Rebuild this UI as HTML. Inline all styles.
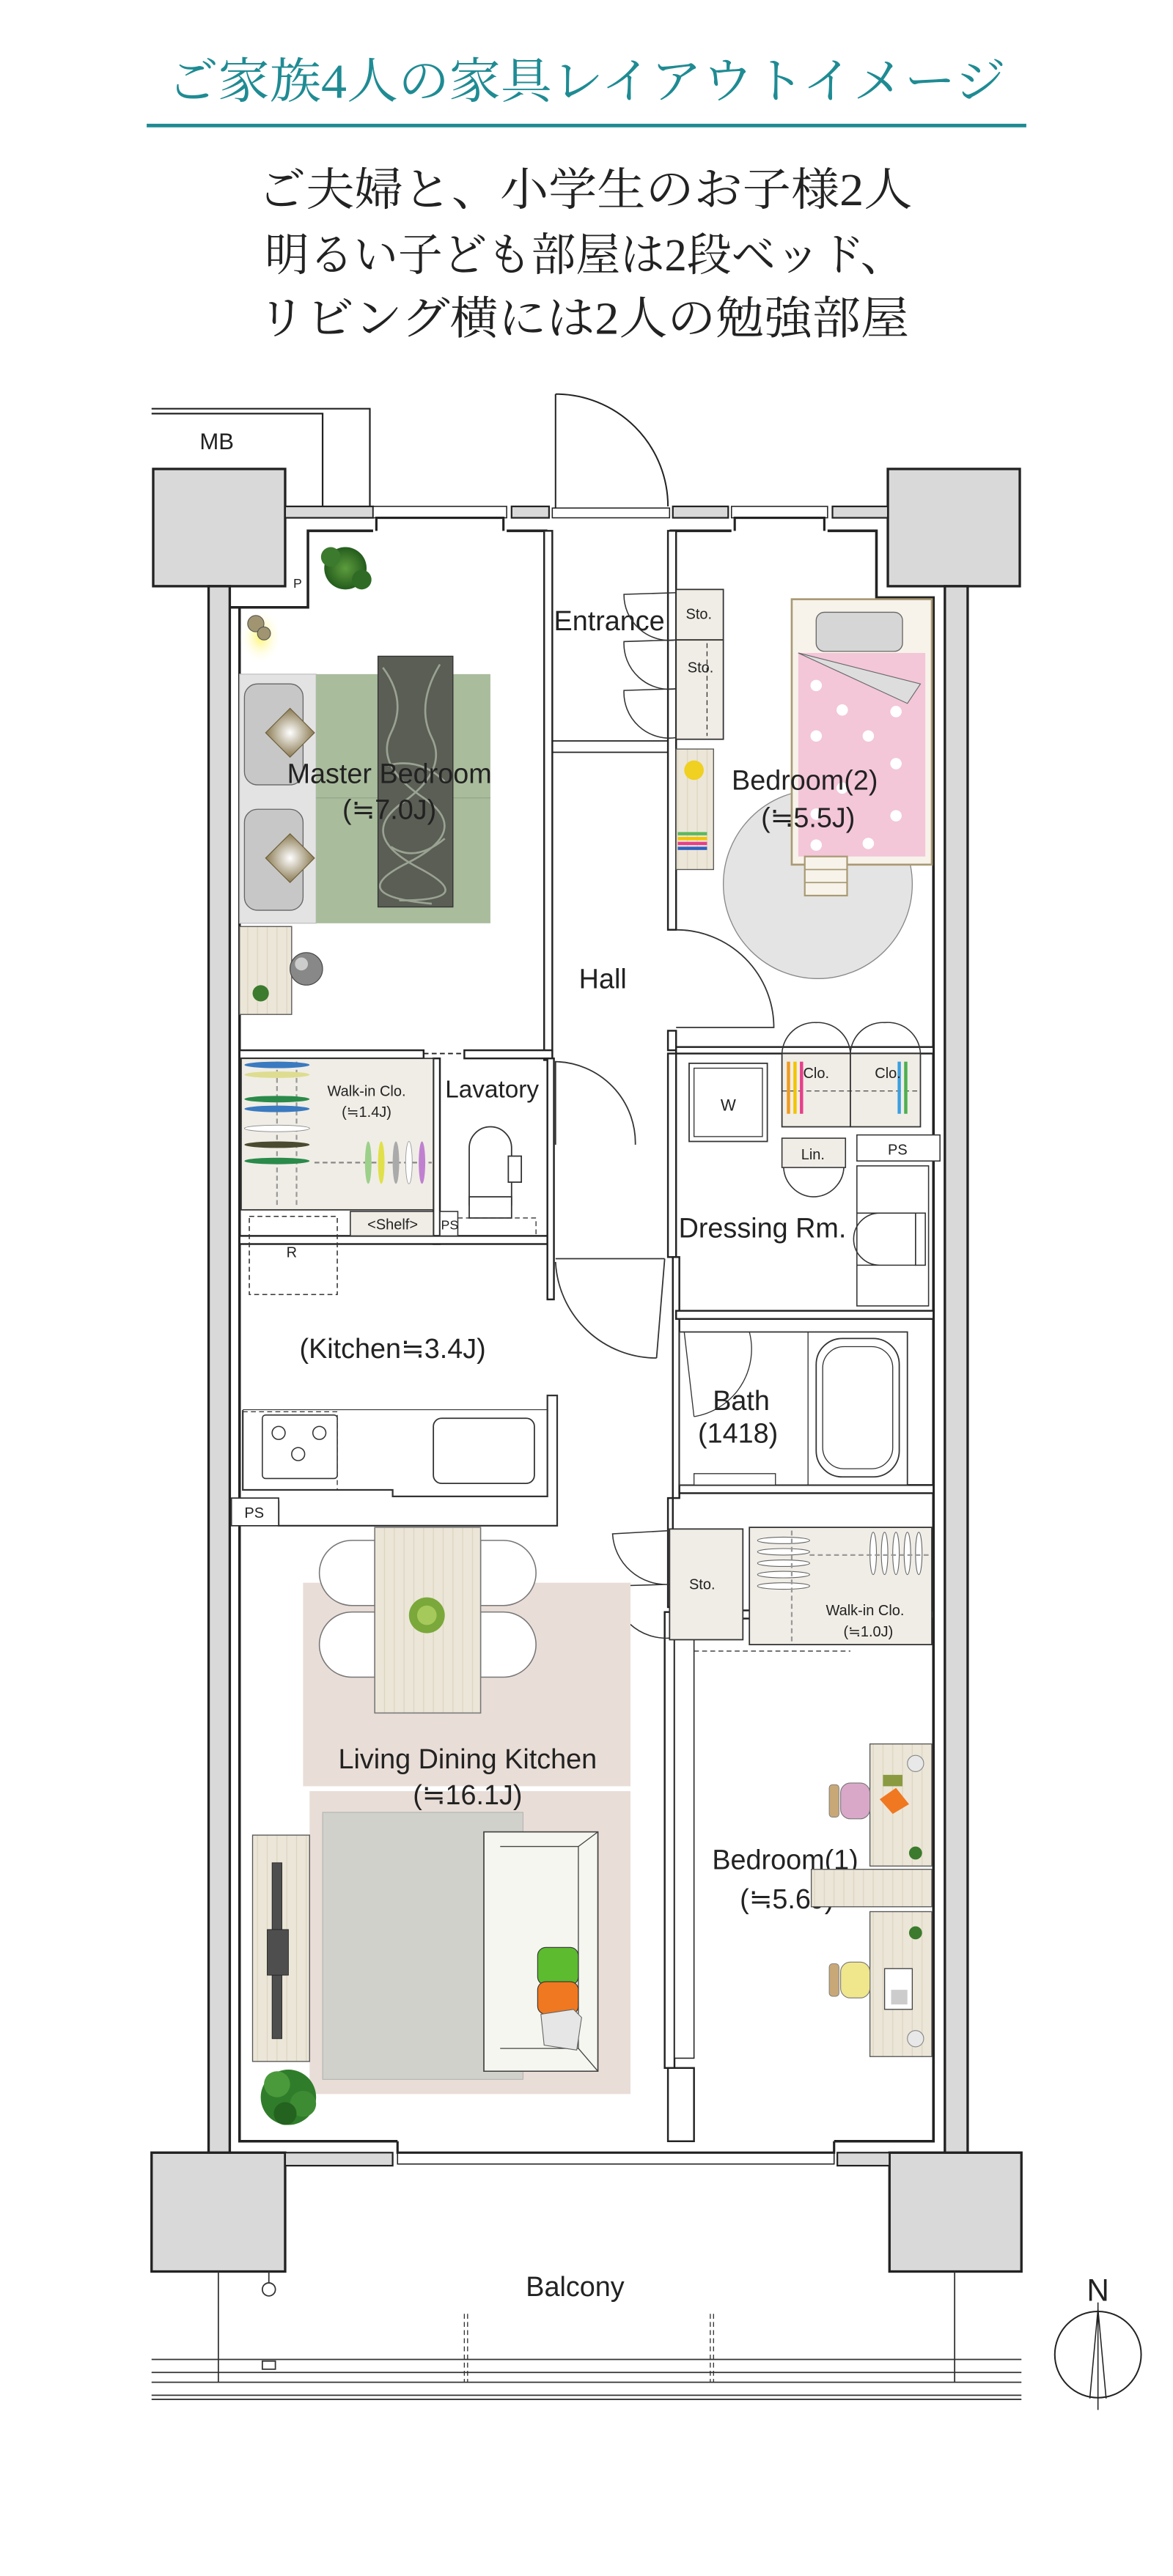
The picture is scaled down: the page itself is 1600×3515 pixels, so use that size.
<!DOCTYPE html>
<html><head><meta charset="utf-8"><style>
html,body{margin:0;padding:0;background:#fff;}
svg{display:block;}
.lb{font-family:"Liberation Sans Narrow","Liberation Sans",sans-serif;fill:#222;}
</style></head><body>
<svg width="1600" height="3515" viewBox="0 0 720 1582" xmlns="http://www.w3.org/2000/svg">
<rect width="720" height="1582" fill="#fff"/>
<!-- Titles -->
<text x="360" y="60" text-anchor="middle" font-family="'Liberation Serif','Noto Serif CJK JP',serif" font-size="30" fill="#1f8b93" textLength="515" lengthAdjust="spacingAndGlyphs">ご家族4人の家具レイアウトイメージ</text>
<rect x="90" y="76" width="540" height="2.2" fill="#1f8b93"/>
<g font-family="'Liberation Serif','Noto Serif CJK JP',serif" font-size="28" fill="#222" text-anchor="middle">
<text x="359" y="126" textLength="402" lengthAdjust="spacingAndGlyphs">ご夫婦と、小学生のお子様2人</text>
<text x="359" y="166" textLength="393" lengthAdjust="spacingAndGlyphs">明るい子ども部屋は2段ベッド、</text>
<text x="358" y="205" textLength="400" lengthAdjust="spacingAndGlyphs">リビング横には2人の勉強部屋</text>
</g>

<g stroke="#222" stroke-width="1" fill="none">
<!-- MB -->
<path d="M93 251 H227 V311 M93 254 H198 V311"/>
</g>
<text x="133" y="276" class="lb" font-size="14" text-anchor="middle">MB</text>

<!-- pillars -->
<g fill="#d9d9d9" stroke="#222" stroke-width="1.5">
<rect x="94" y="288" width="81" height="72"/>
<rect x="545" y="288" width="81" height="72"/>
<rect x="93" y="1322" width="82" height="73"/>
<rect x="546" y="1322" width="81" height="73"/>
<!-- side walls -->
<rect x="128" y="360" width="13" height="962"/>
<rect x="580" y="360" width="14" height="962"/>
<!-- top wall pieces -->
<rect x="175" y="311" width="54" height="7" stroke-width="1"/>
<rect x="314" y="311" width="23" height="7" stroke-width="1"/>
<rect x="413" y="311" width="34" height="7" stroke-width="1"/>
<rect x="511" y="311" width="34" height="7" stroke-width="1"/>
<!-- bottom wall pieces -->
<rect x="175" y="1322" width="66" height="8" stroke-width="1"/>
<rect x="514" y="1322" width="32" height="8" stroke-width="1"/>
</g>
<!-- windows top -->
<g stroke="#222" stroke-width="0.7" fill="#fff">
<rect x="229" y="311" width="82" height="7"/>
<rect x="449" y="311" width="59" height="7"/>
<rect x="339" y="312" width="72" height="6"/>
<rect x="244" y="1322" width="268" height="7"/>
</g>
<g stroke="#222" stroke-width="1.4" fill="none">
<path d="M231 326 V318 H309 V326"/><path d="M451 326 V318 H506 V326"/>
<path d="M244 1315 V1322 H512 V1315"/>
</g>

<!-- room outline lines -->
<g stroke="#222" stroke-width="1.6" fill="none">
<path d="M141 373 H189 V326 H229"/>
<path d="M311 326 H336"/>
<path d="M411 326 H449"/>
<path d="M508 326 H538 V367 H573 V1315 H512"/>
<path d="M147 373 V1315 H244"/>
</g>
<text x="180" y="361" class="lb" font-size="8">P</text>

<!-- Entrance door -->
<g stroke="#222" stroke-width="0.9" fill="none">
<path d="M341 312 V242"/>
<path d="M341 242 A69 69 0 0 1 410 311"/>
</g>

<!-- interior walls -->
<g fill="#fff" stroke="#222" stroke-width="1.1">
<rect x="334" y="326" width="5" height="325"/>
<rect x="410" y="326" width="5" height="245"/>
<rect x="410" y="633" width="5" height="12"/>
<rect x="147" y="645" width="113" height="5"/>
<rect x="285" y="645" width="54" height="5"/>
<rect x="415" y="643" width="158" height="4"/>
<rect x="266" y="650" width="4" height="114"/>
<rect x="147" y="759" width="189" height="5"/>
<rect x="336" y="650" width="4" height="148"/>
<rect x="410" y="647" width="5" height="125"/>
<rect x="413" y="772" width="4" height="148"/>
<rect x="415" y="805" width="158" height="5"/>
<rect x="417" y="912" width="156" height="5"/>
<rect x="410" y="920" width="3" height="67"/>
<rect x="408" y="990" width="6" height="280"/>
<rect x="414" y="994" width="12" height="270" stroke-width="0.7"/>
<rect x="410" y="1270" width="16" height="45"/>
<rect x="426" y="989" width="147" height="5"/>
</g>
<g stroke="#222" stroke-width="0.8" fill="none">
<path d="M339 455 H410 M339 462 H410"/>
<path d="M260 647 H285" stroke-dasharray="3 2"/>
</g>

<!-- Master Bedroom furniture -->
<defs>
<radialGradient id="lamp"><stop offset="0" stop-color="#fff46a"/><stop offset="1" stop-color="#fff" stop-opacity="0"/></radialGradient>
<radialGradient id="pl"><stop offset="0" stop-color="#5d9c3d"/><stop offset="1" stop-color="#245c1d"/></radialGradient>
<radialGradient id="cush" cx=".5" cy=".5"><stop offset="0" stop-color="#fff"/><stop offset="1" stop-color="#8a7a52"/></radialGradient>
<pattern id="wood" width="6" height="6" patternUnits="userSpaceOnUse"><rect width="6" height="6" fill="#ece6d8"/><path d="M2 0V6" stroke="#ddd5c2" stroke-width=".6"/></pattern>
</defs>
<rect x="147" y="374" width="26" height="34" fill="url(#lamp)"/>
<circle cx="157" cy="383" r="5" fill="#a09570" stroke="#555" stroke-width=".5"/>
<circle cx="162" cy="389" r="4" fill="#a09570" stroke="#555" stroke-width=".5"/>
<g>
<circle cx="212" cy="349" r="13" fill="url(#pl)"/>
<circle cx="203" cy="342" r="6" fill="#3c7a2d"/><circle cx="222" cy="356" r="6" fill="#2f6b25"/>
</g>
<rect x="147" y="414" width="47" height="153" fill="#e3e3e3" stroke="#bbb" stroke-width=".5"/>
<rect x="194" y="414" width="107" height="153" fill="#a9bc9c"/>
<line x1="194" y1="490" x2="301" y2="490" stroke="#95a88a" stroke-width=".6"/>
<rect x="150" y="420" width="36" height="62" rx="8" fill="#c7c7c7" stroke="#666" stroke-width=".6"/>
<rect x="150" y="497" width="36" height="62" rx="8" fill="#c7c7c7" stroke="#666" stroke-width=".6"/>
<path d="M178 435 l15 15 -15 15 -15 -15z" fill="url(#cush)" stroke="#6b5c38" stroke-width=".5"/>
<path d="M178 512 l15 15 -15 15 -15 -15z" fill="url(#cush)" stroke="#6b5c38" stroke-width=".5"/>
<rect x="232" y="403" width="46" height="154" fill="#5a5e55" stroke="#333" stroke-width=".6"/>
<g stroke="#9aa292" stroke-width="1.2" fill="none">
<path d="M235 410 q15 20 5 40 t20 40 t-10 40 t15 25"/><path d="M270 408 q-15 25 -5 45 t-18 40 t10 40 t-12 20"/><path d="M238 470 q20 -5 35 10"/><path d="M240 520 q15 10 33 -5"/>
</g>
<rect x="147" y="569" width="32" height="54" fill="url(#wood)" stroke="#555" stroke-width=".6"/>
<circle cx="188" cy="595" r="10" fill="#888" stroke="#444" stroke-width=".5"/>
<circle cx="185" cy="592" r="4" fill="#ccc"/>
<circle cx="160" cy="610" r="5" fill="#3c7a2d"/>
<text x="239" y="481" class="lb" font-size="17" text-anchor="middle">Master Bedroom</text>
<text x="239" y="503" class="lb" font-size="17" text-anchor="middle">(≒7.0J)</text>

<!-- Entrance -->
<text x="374" y="387" class="lb" font-size="17" text-anchor="middle">Entrance</text>
<g fill="#f0ede6" stroke="#333" stroke-width=".8">
<rect x="415" y="362" width="29" height="31"/>
<rect x="415" y="393" width="29" height="61"/>
</g>
<line x1="434" y1="395" x2="434" y2="452" stroke="#333" stroke-width=".6" stroke-dasharray="3 2"/>
<text x="429" y="380" class="lb" font-size="9" text-anchor="middle">Sto.</text>
<text x="430" y="413" class="lb" font-size="9" text-anchor="middle">Sto.</text>
<g stroke="#333" stroke-width=".7" fill="none">
<path d="M415 364 L383 365 A28 28 0 0 0 415 393"/>
<path d="M415 393 L383 394 A28 28 0 0 0 415 423"/>
<path d="M415 423 L383 424 A28 28 0 0 0 415 453"/>
</g>

<!-- Bedroom 2 -->
<circle cx="502" cy="543" r="58" fill="#e4e4e4" stroke="#888" stroke-width=".6"/>
<rect x="415" y="460" width="23" height="74" fill="url(#wood)" stroke="#555" stroke-width=".6"/>
<circle cx="426" cy="473" r="6" fill="#f0d020"/>
<rect x="416" y="511" width="18" height="2" fill="#5cb85c"/><rect x="416" y="514" width="18" height="2" fill="#f2c400"/><rect x="416" y="517" width="18" height="2" fill="#e5408a"/><rect x="416" y="520" width="18" height="2" fill="#3060c0"/>
<rect x="486" y="368" width="86" height="163" fill="#f7f3ea" stroke="#a99a74" stroke-width="1.2"/>
<rect x="490" y="401" width="78" height="125" fill="#f3c6d8"/>
<g fill="#fff"><circle cx="501" cy="421" r="3.5"/><circle cx="517" cy="436" r="3.5"/><circle cx="550" cy="437" r="3.5"/><circle cx="501" cy="452" r="3.5"/><circle cx="533" cy="452" r="3.5"/><circle cx="550" cy="469" r="3.5"/><circle cx="517" cy="484" r="3.5"/><circle cx="501" cy="500" r="3.5"/><circle cx="550" cy="501" r="3.5"/><circle cx="533" cy="518" r="3.5"/><circle cx="501" cy="519" r="3.5"/></g>
<path d="M490 401 L565 420 L557 432 Z" fill="#ddd" stroke="#666" stroke-width=".5"/>
<rect x="501" y="376" width="53" height="24" rx="5" fill="#d6d6d6" stroke="#666" stroke-width=".6"/>
<g stroke="#a99a74" stroke-width="1" fill="#f7f3ea"><rect x="494" y="526" width="26" height="24"/></g>
<g stroke="#a99a74" stroke-width=".8"><line x1="494" y1="534" x2="520" y2="534"/><line x1="494" y1="542" x2="520" y2="542"/></g>
<text x="494" y="485" class="lb" font-size="17" text-anchor="middle">Bedroom(2)</text>
<text x="496" y="508" class="lb" font-size="17" text-anchor="middle">(≒5.5J)</text>
<path d="M415 571 L475 571" stroke="none"/>
<g stroke="#333" stroke-width=".8" fill="none">
<path d="M415 571 A60 60 0 0 1 475 631 L415 631"/>
</g>
<g fill="#f0ede6" stroke="#333" stroke-width=".8">
<rect x="480" y="647" width="42" height="45"/><rect x="522" y="647" width="43" height="45"/>
</g>
<line x1="480" y1="670" x2="565" y2="670" stroke="#333" stroke-width=".5" stroke-dasharray="3 2"/>
<g stroke="#333" stroke-width=".7" fill="none">
<path d="M480 647 A20 20 0 0 1 501 628 A20 20 0 0 1 522 647 A20 20 0 0 1 543 628 A20 20 0 0 1 565 647"/>
</g>
<g><rect x="483" y="652" width="2" height="32" fill="#f09a20"/><rect x="487" y="652" width="2" height="32" fill="#f2c400"/><rect x="491" y="652" width="2" height="32" fill="#e5408a"/><rect x="551" y="652" width="2" height="32" fill="#3aa0e0"/><rect x="555" y="652" width="2" height="32" fill="#4caf50"/></g>
<text x="501" y="662" class="lb" font-size="9" text-anchor="middle">Clo.</text>
<text x="545" y="662" class="lb" font-size="9" text-anchor="middle">Clo.</text>

<!-- Hall -->
<text x="370" y="607" class="lb" font-size="17" text-anchor="middle">Hall</text>

<!-- Walk-in clo -->
<rect x="148" y="650" width="118" height="93" fill="#f0ede6" stroke="#333" stroke-width=".8"/>
<line x1="170" y1="652" x2="170" y2="742" stroke="#999" stroke-dasharray="3 2"/>
<line x1="182" y1="652" x2="182" y2="742" stroke="#999" stroke-dasharray="3 2"/>
<g>
<ellipse cx="170" cy="654" rx="20" ry="2" fill="#3a7ac0"/><ellipse cx="170" cy="660" rx="20" ry="2" fill="#dedc90"/>
<ellipse cx="170" cy="675" rx="20" ry="2" fill="#2a8a4a"/><ellipse cx="170" cy="681" rx="20" ry="2" fill="#3a7ac0"/>
<ellipse cx="170" cy="693" rx="20" ry="2" fill="#fff" stroke="#888" stroke-width=".4"/><ellipse cx="170" cy="703" rx="20" ry="2" fill="#4a4a30"/>
<ellipse cx="170" cy="713" rx="20" ry="2" fill="#2a8a4a"/>
</g>
<line x1="193" y1="714" x2="265" y2="714" stroke="#888" stroke-dasharray="3 2"/>
<g><ellipse cx="226" cy="714" rx="2" ry="13" fill="#9cd08a"/><ellipse cx="234" cy="714" rx="2" ry="13" fill="#e0e04a"/><ellipse cx="243" cy="714" rx="2" ry="13" fill="#aaa"/><ellipse cx="251" cy="714" rx="2" ry="13" fill="#fff" stroke="#999" stroke-width=".4"/><ellipse cx="259" cy="714" rx="2" ry="13" fill="#c080d0"/></g>
<text x="225" y="673" class="lb" font-size="9" text-anchor="middle">Walk-in Clo.</text>
<text x="225" y="686" class="lb" font-size="9" text-anchor="middle">(≒1.4J)</text>
<rect x="215" y="744" width="51" height="15" fill="#f0ede6" stroke="#333" stroke-width=".7"/>
<text x="241" y="755" class="lb" font-size="9" text-anchor="middle">&lt;Shelf&gt;</text>
<rect x="270" y="744" width="11" height="15" fill="#fff" stroke="#333" stroke-width=".7"/>
<text x="276" y="755" class="lb" font-size="8" text-anchor="middle">PS</text>

<!-- Lavatory -->
<text x="302" y="674" class="lb" font-size="15" text-anchor="middle">Lavatory</text>
<g stroke="#333" stroke-width=".8" fill="#fff">
<path d="M288 740 V705 a13 13 0 0 1 26 0 V740 Z"/>
<rect x="312" y="710" width="8" height="16"/>
<rect x="288" y="735" width="26" height="13"/>
</g>
<path d="M281 748 H329 V759" stroke="#333" stroke-width=".6" fill="none" stroke-dasharray="3 2"/>
<g stroke="#333" stroke-width=".8" fill="none"><path d="M341 703 V652 A50 50 0 0 1 390 703"/></g>

<!-- W / Dressing -->
<rect x="423" y="653" width="48" height="48" fill="#fff" stroke="#333" stroke-width=".8"/>
<rect x="426" y="656" width="42" height="42" fill="#fff" stroke="#333" stroke-width=".6"/>
<text x="447" y="682" class="lb" font-size="10" text-anchor="middle">W</text>
<rect x="480" y="699" width="39" height="18" fill="#f0ede6" stroke="#333" stroke-width=".7"/>
<text x="499" y="712" class="lb" font-size="9" text-anchor="middle">Lin.</text>
<rect x="526" y="697" width="51" height="16" fill="#fff" stroke="#333" stroke-width=".7"/>
<text x="551" y="709" class="lb" font-size="9" text-anchor="middle">PS</text>
<g stroke="#333" stroke-width=".7" fill="none">
<path d="M481 717 A19 19 0 0 0 499 735 A19 19 0 0 0 518 717"/>
<rect x="526" y="716" width="44" height="86"/>
<path d="M526 745 H562 V777 H526 M540 745 A16 16 0 0 0 540 777"/>
<rect x="562" y="745" width="6" height="32"/>
</g>
<text x="468" y="760" class="lb" font-size="17" text-anchor="middle">Dressing Rm.</text>

<!-- Kitchen -->
<rect x="153" y="747" width="54" height="48" fill="none" stroke="#333" stroke-width=".7" stroke-dasharray="3 2"/>
<text x="179" y="772" class="lb" font-size="9" text-anchor="middle">R</text>
<g stroke="#333" stroke-width=".8" fill="none">
<path d="M408 773 L403 834 M341 775 A62 62 0 0 0 403 834 M341 773 H408"/>
</g>
<text x="241" y="834" class="lb" font-size="17" text-anchor="middle">(Kitchen≒3.4J)</text>
<path d="M149 866 H336 V857 H342 V937 H171 V922 H149" fill="#fff" stroke="#333" stroke-width="1"/>
<path d="M149 866 V915 H241 V919 H336 V866" fill="#fff" stroke="#333" stroke-width="1"/>
<rect x="149" y="867" width="58" height="48" fill="none" stroke="#333" stroke-width=".6" stroke-dasharray="3 2"/>
<rect x="161" y="869" width="46" height="39" rx="2" fill="#fff" stroke="#333" stroke-width=".7"/>
<circle cx="171" cy="880" r="4" fill="none" stroke="#333" stroke-width=".7"/><circle cx="196" cy="880" r="4" fill="none" stroke="#333" stroke-width=".7"/><circle cx="183" cy="893" r="4" fill="none" stroke="#333" stroke-width=".7"/>
<rect x="266" y="871" width="62" height="40" rx="5" fill="#fff" stroke="#333" stroke-width=".8"/>
<rect x="142" y="920" width="29" height="17" fill="#fff" stroke="#333" stroke-width=".8"/>
<text x="156" y="932" class="lb" font-size="9" text-anchor="middle">PS</text>

<!-- Bath -->
<rect x="417" y="818" width="140" height="94" fill="#fff" stroke="#333" stroke-width=".8"/>
<line x1="496" y1="818" x2="496" y2="912" stroke="#333" stroke-width=".6"/>
<rect x="501" y="822" width="51" height="85" rx="16" fill="#fff" stroke="#333" stroke-width=".8"/>
<rect x="505" y="827" width="43" height="75" rx="13" fill="none" stroke="#333" stroke-width=".6"/>
<rect x="426" y="905" width="50" height="7" fill="#fff" stroke="#333" stroke-width=".6"/>
<path d="M420 818 L426 870 M460 818 A42 42 0 0 1 426 870" stroke="#333" stroke-width=".6" fill="none"/>
<text x="455" y="866" class="lb" font-size="17" text-anchor="middle">Bath</text>
<text x="453" y="886" class="lb" font-size="17" text-anchor="middle">(1418)</text>

<!-- Sto / Walk-in clo lower -->
<rect x="411" y="939" width="45" height="68" fill="#f0ede6" stroke="#333" stroke-width=".8"/>
<text x="431" y="976" class="lb" font-size="9" text-anchor="middle">Sto.</text>
<path d="M411 940 L376 942 A33 33 0 0 0 411 973 L376 974 A33 33 0 0 0 411 1006" stroke="#333" stroke-width=".7" fill="none"/>
<rect x="460" y="938" width="112" height="72" fill="#f0ede6" stroke="#333" stroke-width=".8"/>
<g fill="#fff" stroke="#666" stroke-width=".5">
<ellipse cx="481" cy="946" rx="16" ry="2"/><ellipse cx="481" cy="953" rx="16" ry="2"/><ellipse cx="481" cy="960" rx="16" ry="2"/><ellipse cx="481" cy="967" rx="16" ry="2"/><ellipse cx="481" cy="974" rx="16" ry="2"/>
<ellipse cx="536" cy="954" rx="2" ry="13"/><ellipse cx="543" cy="954" rx="2" ry="13"/><ellipse cx="550" cy="954" rx="2" ry="13"/><ellipse cx="557" cy="954" rx="2" ry="13"/><ellipse cx="564" cy="954" rx="2" ry="13"/>
</g>
<line x1="486" y1="940" x2="486" y2="1008" stroke="#999" stroke-dasharray="3 2"/>
<line x1="497" y1="955" x2="572" y2="955" stroke="#999" stroke-dasharray="3 2"/>
<text x="531" y="992" class="lb" font-size="9" text-anchor="middle">Walk-in Clo.</text>
<text x="533" y="1005" class="lb" font-size="9" text-anchor="middle">(≒1.0J)</text>
<path d="M426 1014 H522" stroke="#333" stroke-width=".6" stroke-dasharray="3 2"/>

<!-- LDK -->
<rect x="186" y="972" width="201" height="125" fill="#e9ddd7"/>
<rect x="190" y="1100" width="197" height="186" fill="#e9ddd7"/>
<g fill="#fff" stroke="#777" stroke-width=".7">
<path d="M230 946 h-14 a13 13 0 0 0 0 40 h14 z"/><path d="M230 990 h-14 a13 13 0 0 0 0 40 h14 z"/>
<path d="M295 946 h14 a13 13 0 0 1 0 40 h-14 z"/><path d="M295 990 h14 a13 13 0 0 1 0 40 h-14 z"/>
</g>
<rect x="230" y="938" width="65" height="114" fill="url(#wood)" stroke="#777" stroke-width=".7"/>
<circle cx="262" cy="992" r="11" fill="#7aa83a"/><circle cx="262" cy="992" r="6" fill="#a5c95a"/>
<text x="287" y="1086" class="lb" font-size="17" text-anchor="middle">Living Dining Kitchen</text>
<text x="287" y="1108" class="lb" font-size="17" text-anchor="middle">(≒16.1J)</text>
<rect x="198" y="1113" width="123" height="164" fill="#cfd1ca" stroke="#aaa" stroke-width=".4"/>
<rect x="297" y="1125" width="70" height="147" fill="#f6f6f0" stroke="#333" stroke-width=".7"/>
<path d="M297 1125 H367 V1272 H297 M307 1134 H355 V1258 H307" fill="none" stroke="#444" stroke-width=".6"/>
<path d="M355 1134 L367 1125 M355 1258 L367 1272" stroke="#444" stroke-width=".6"/>
<rect x="330" y="1196" width="25" height="23" rx="5" fill="#5cbb2f" stroke="#333" stroke-width=".5"/>
<rect x="330" y="1217" width="25" height="20" rx="5" fill="#f07820" stroke="#333" stroke-width=".5"/>
<path d="M332 1237 l20 -3 l5 5 l-3 20 l-20 -3 z" fill="#e6e6e6" stroke="#666" stroke-width=".5"/>
<rect x="155" y="1127" width="35" height="139" fill="url(#wood)" stroke="#555" stroke-width=".6"/>
<rect x="167" y="1144" width="6" height="108" fill="#4e4e4e" stroke="#222" stroke-width=".4"/>
<rect x="164" y="1185" width="13" height="28" fill="#4e4e4e" stroke="#222" stroke-width=".4"/>
<g><circle cx="177" cy="1288" r="17" fill="#2f7d2a"/><circle cx="170" cy="1280" r="8" fill="#4a9a3c"/><circle cx="186" cy="1292" r="8" fill="#3d8c33"/><circle cx="175" cy="1298" r="7" fill="#24621f"/></g>

<!-- Bedroom 1 -->
<text x="482" y="1148" class="lb" font-size="17" text-anchor="middle">Bedroom(1)</text>
<text x="483" y="1172" class="lb" font-size="17" text-anchor="middle">(≒5.6J)</text>
<rect x="534" y="1071" width="38" height="75" fill="url(#wood)" stroke="#555" stroke-width=".6"/>
<rect x="498" y="1148" width="74" height="23" fill="url(#wood)" stroke="#555" stroke-width=".6"/>
<rect x="534" y="1174" width="38" height="89" fill="url(#wood)" stroke="#555" stroke-width=".6"/>
<rect x="516" y="1095" width="18" height="22" rx="6" fill="#d9a8c8" stroke="#777" stroke-width=".5"/>
<rect x="509" y="1096" width="6" height="20" rx="2" fill="#c9a878" stroke="#777" stroke-width=".4"/>
<rect x="516" y="1205" width="18" height="22" rx="6" fill="#f0e68c" stroke="#777" stroke-width=".5"/>
<rect x="509" y="1206" width="6" height="20" rx="2" fill="#c9a878" stroke="#777" stroke-width=".4"/>
<path d="M540 1105 l10 -7 l8 10 l-10 6z" fill="#f07820"/><rect x="542" y="1090" width="12" height="7" fill="#8a9a40"/>
<circle cx="562" cy="1138" r="4" fill="#3c7a2d"/>
<circle cx="562" cy="1187" r="4" fill="#3c7a2d"/>
<rect x="543" y="1209" width="17" height="25" fill="#fff" stroke="#444" stroke-width=".6"/>
<rect x="547" y="1222" width="10" height="9" fill="#ccc"/>
<circle cx="562" cy="1083" r="5" fill="#e8e8e8" stroke="#888" stroke-width=".5"/>
<circle cx="562" cy="1252" r="5" fill="#e8e8e8" stroke="#888" stroke-width=".5"/>

<!-- Balcony -->
<text x="353" y="1410" class="lb" font-size="17" text-anchor="middle">Balcony</text>
<g stroke="#333" stroke-width=".8" fill="none">
<path d="M134 1395 V1463 M586 1395 V1463"/>
<path d="M93 1449 H627 M93 1457 H627 M93 1463 H627"/>
<path d="M93 1471 H627 M93 1473.5 H627"/>
<path d="M285 1421 V1463 M287 1421 V1463 M436 1421 V1463 M438 1421 V1463" stroke-dasharray="3 2" stroke-width=".6"/>
<path d="M165 1395 V1402"/>
<ellipse cx="165" cy="1406" rx="4" ry="4"/>
<rect x="161" y="1450" width="8" height="5"/>
</g>
<!-- compass -->
<text x="674" y="1413" font-family="'Liberation Sans Narrow','Liberation Sans',sans-serif" font-size="19" text-anchor="middle" fill="#222">N</text>
<circle cx="674" cy="1446" r="26.5" fill="none" stroke="#222" stroke-width=".9"/>
<path d="M674 1414 V1480 M674 1418 L669 1473 M674 1418 L679 1473" stroke="#222" stroke-width=".7" fill="none"/>
</svg>
</body></html>
